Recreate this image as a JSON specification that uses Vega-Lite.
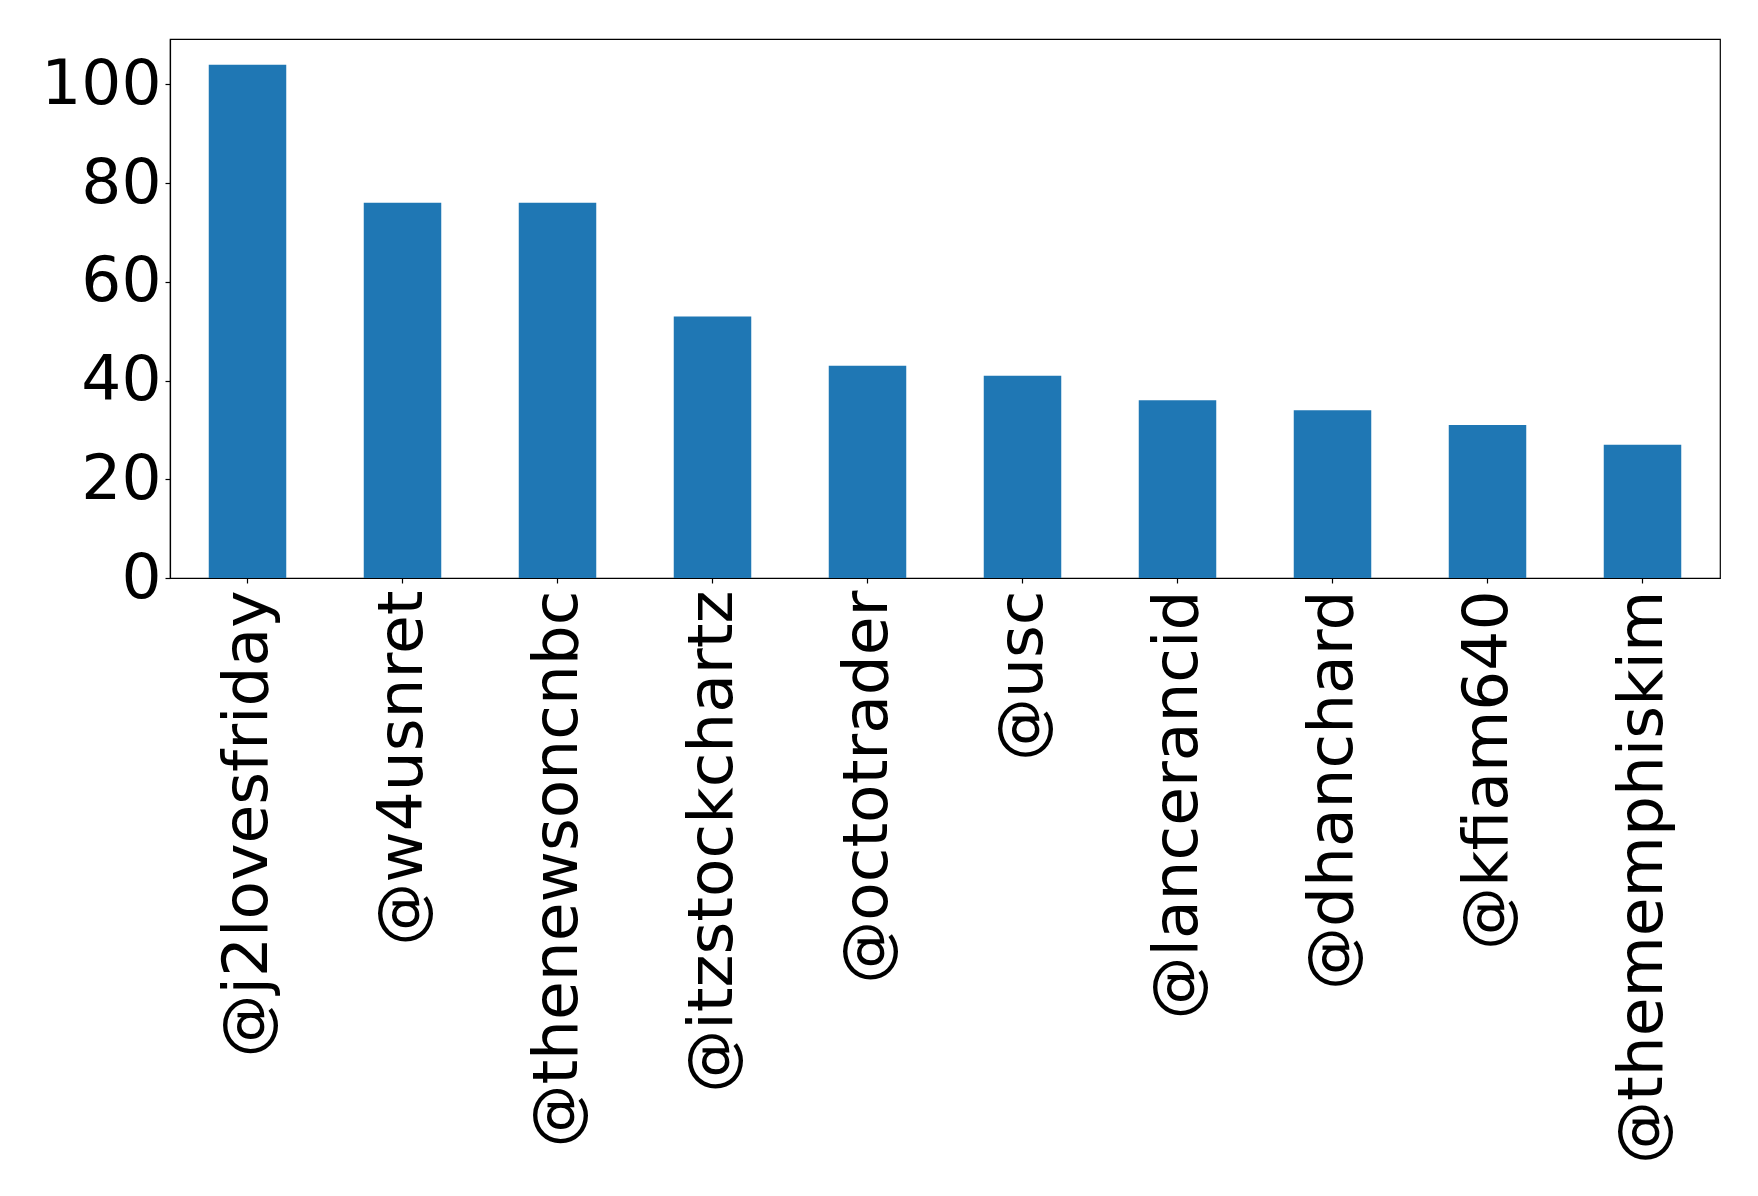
{
  "$schema": "https://vega.github.io/schema/vega-lite/v6.json",
  "autosize": {"type": "none"},
  "padding": {"left": 170, "top": 39, "right": 38, "bottom": 618},
  "width": 1550,
  "height": 539,
  "background": "white",
  "config": {
    "view": {"stroke": "black", "strokeWidth": 1.2},
    "font": "DejaVu Sans",
    "axis": {
      "labelFont": "DejaVu Sans",
      "labelFontSize": 63,
      "labelColor": "black",
      "tickColor": "black",
      "tickSize": 5,
      "tickWidth": 1.2,
      "domain": true,
      "domainColor": "black",
      "domainWidth": 1.2,
      "grid": false,
      "title": null
    }
  },
  "data": {
    "values": [
      {"user": "@j2lovesfriday", "count": 104},
      {"user": "@w4usnret", "count": 76},
      {"user": "@thenewsoncnbc", "count": 76},
      {"user": "@itzstockchartz", "count": 53},
      {"user": "@octotrader", "count": 43},
      {"user": "@usc", "count": 41},
      {"user": "@lancerancid", "count": 36},
      {"user": "@dhanchard", "count": 34},
      {"user": "@kfiam640", "count": 31},
      {"user": "@thememphiskim", "count": 27}
    ]
  },
  "mark": {"type": "bar", "color": "#1f77b4"},
  "encoding": {
    "x": {
      "field": "user",
      "type": "nominal",
      "sort": null,
      "scale": {"paddingInner": 0.5, "paddingOuter": 0.25},
      "axis": {"labelAngle": -90, "labelPadding": 7, "labelLimit": 0}
    },
    "y": {
      "field": "count",
      "type": "quantitative",
      "scale": {"domain": [0, 109.2], "nice": false, "zero": true},
      "axis": {"values": [0, 20, 40, 60, 80, 100], "labelPadding": 4}
    }
  }
}
